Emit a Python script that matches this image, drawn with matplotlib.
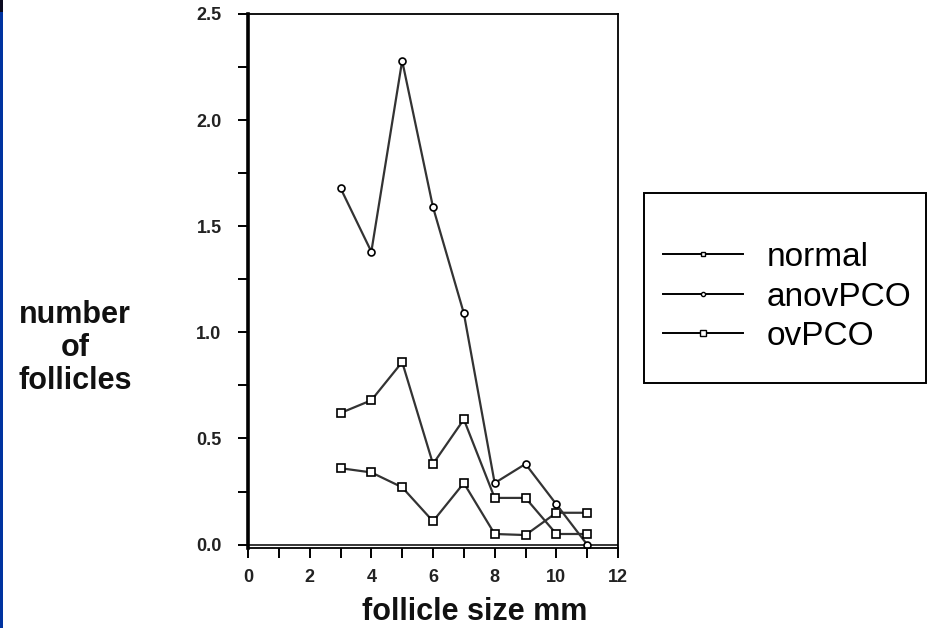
#!/usr/bin/env python3
"""
Follicle size distribution - normal vs anovPCO vs ovPCO
"""

import matplotlib
matplotlib.use("Agg")
import matplotlib.pyplot as plt
from matplotlib.patches import Rectangle
from matplotlib.lines import Line2D
from matplotlib.ticker import MultipleLocator

plt.rcParams['font.family'] = ['Liberation Sans', 'DejaVu Sans']

# follicle size (mm)
sizes = [3, 4, 5, 6, 7, 8, 9, 10, 11]

# mean number of follicles per size class
normal = [0.36, 0.34, 0.27, 0.11, 0.29, 0.05, 0.045, 0.15, 0.15]
anovPCO = [1.68, 1.38, 2.28, 1.59, 1.09, 0.29, 0.38, 0.19, 0.0]
ovPCO = [0.62, 0.68, 0.86, 0.38, 0.59, 0.22, 0.22, 0.05, 0.05]

x_ticks = [0, 2, 4, 6, 8, 10, 12]
y_ticks = [0.0, 0.5, 1.0, 1.5, 2.0, 2.5]

W, H = 930, 628
fig = plt.figure(figsize=(W / 100, H / 100), dpi=100)
ax = fig.add_axes([248 / W, 1 - 548 / H, (618 - 248) / W, (548 - 14) / H])

line_col = '#333333'
ax.plot(sizes, normal, color=line_col, lw=1.6, marker='s', ms=5.3,
        mfc='white', mec='black', mew=1.2, label='normal')
ax.plot(sizes, anovPCO, color=line_col, lw=1.6, marker='o', ms=5,
        mfc='white', mec='black', mew=1.2, label='anovPCO')
ax.plot(sizes, ovPCO, color=line_col, lw=1.6, marker='s', ms=5.5,
        mfc='white', mec='black', mew=1.2, label='ovPCO')

# second baseline just above the x spine
ax.axhline(0, color='black', lw=1.1, zorder=1)

ax.set_xlim(0, 12)
ax.set_ylim(-0.016, 2.5)
ax.set_xticks(x_ticks)
ax.xaxis.set_minor_locator(MultipleLocator(1))
ax.set_yticks(y_ticks)
ax.set_yticklabels([f"{v:.1f}" for v in y_ticks])
ax.yaxis.set_minor_locator(MultipleLocator(0.25))

for side in ['top', 'right', 'bottom']:
    ax.spines[side].set_linewidth(1.3)
ax.spines['left'].set_linewidth(2.6)

ax.tick_params(axis='both', which='both', direction='out', width=1.4,
               length=7, colors='black', labelcolor='#222222')
ax.tick_params(axis='y', which='major', pad=12, labelsize=13)
ax.tick_params(axis='x', which='major', pad=8, labelsize=13)
for lbl in ax.get_xticklabels() + ax.get_yticklabels():
    lbl.set_fontweight('bold')

# axis titles
fig.text(475 / W, 1 - 612 / H, 'follicle size mm', ha='center', va='center',
         fontsize=22, fontweight='bold', color='#111111')
fig.text(75 / W, 1 - 348 / H, 'number\nof\nfollicles', ha='center',
         va='center', multialignment='center', fontsize=22,
         fontweight='bold', color='#111111', linespacing=1.15)

# legend box drawn by hand
fig.patches.append(Rectangle((644 / W, 1 - 383 / H), (926 - 644) / W,
                             (383 - 193) / H, transform=fig.transFigure,
                             fill=False, ec='black', lw=1.4))
labels = ['normal', 'anovPCO', 'ovPCO']
# smaller markers in the legend, like the reference
leg_handles = [
    Line2D([], [], color='black', lw=1.4, marker='s', ms=3.5, mfc='white', mec='black'),
    Line2D([], [], color='black', lw=1.4, marker='o', ms=3, mfc='white', mec='black'),
    Line2D([], [], color='black', lw=1.4, marker='s', ms=5, mfc='white', mec='black'),
]
fig.legend(leg_handles, labels, loc='center left',
           bbox_to_anchor=(663 / W, 1 - 297 / H), frameon=False,
           fontsize=24, handlelength=2.4, handletextpad=0.7,
           labelspacing=0.26, borderpad=0, borderaxespad=0)

# blue slide border on the left
fig.patches.append(Rectangle((0, 0), 2.5 / W, 1, transform=fig.transFigure,
                             color='#0033a0', lw=0))
fig.patches.append(Rectangle((0, 1 - 12 / H), 2.5 / W, 12 / H,
                             transform=fig.transFigure, color='#0a0a20', lw=0))

fig.savefig('out.png', dpi=100)
